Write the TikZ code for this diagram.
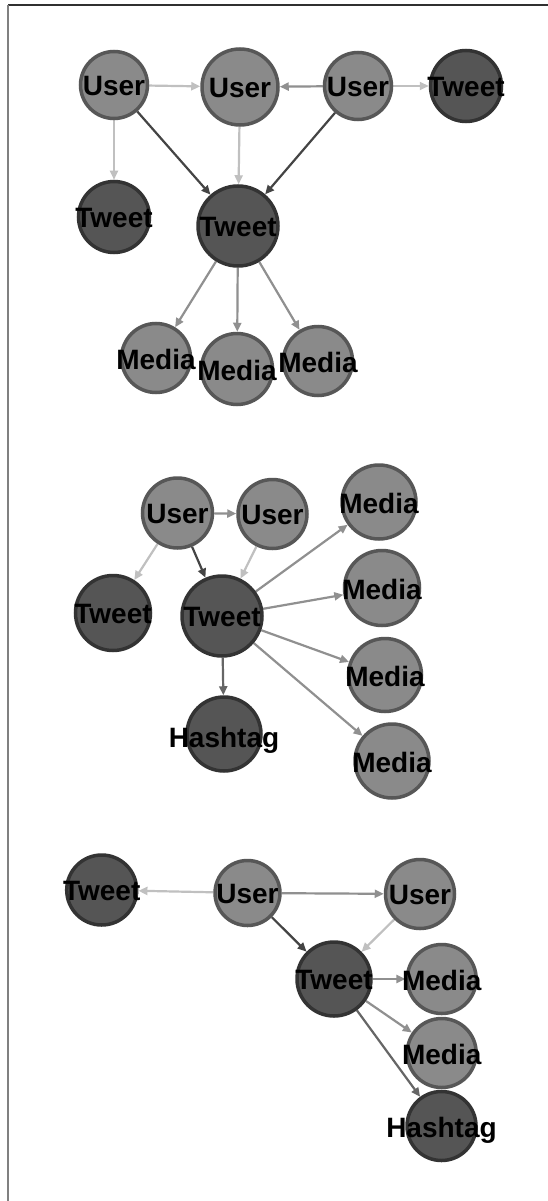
\documentclass[tikz,border=0pt]{standalone}
\usepackage{fontspec}
\setmainfont{Liberation Sans}
\usetikzlibrary{arrows.meta,backgrounds}
\definecolor{ufill}{HTML}{8A8A8A}
\definecolor{uline}{HTML}{575757}
\definecolor{tfill}{HTML}{555555}
\definecolor{tline}{HTML}{333333}
\definecolor{elightc}{HTML}{C0C0C0}
\definecolor{emedc}{HTML}{909090}
\definecolor{edarkc}{HTML}{444444}
\definecolor{ehashc}{HTML}{666666}
\tikzset{
  lbl/.style={font=\fontsize{28}{29}\selectfont\bfseries, inner sep=0pt, text=black},
  gnode/.style={circle, line width=3.5pt, inner sep=0pt, minimum size=#1},
  usr/.style={gnode=#1, fill=ufill, draw=uline},
  twt/.style={gnode=#1, fill=tfill, draw=tline},
  earr/.style={line width=2.2pt, -{Triangle[length=9pt,width=8pt]}},
  elight/.style={earr, draw=elightc},
  emed/.style={earr, draw=emedc},
  edark/.style={earr, draw=edarkc},
  ehash/.style={earr, draw=ehashc},
}
\begin{document}
\begin{tikzpicture}[x=1pt, y=-1pt]
\useasboundingbox (0,0) rectangle (548,1201);
% ---------- panel 1 ----------
\node[usr=67, label={[lbl,yshift=-1pt]center:User}] (p1u1) at (114,85) {};
\node[usr=76, label={[lbl,yshift=-1pt]center:User}] (p1u2) at (240,87) {};
\node[usr=67, label={[lbl,yshift=-1pt]center:User}] (p1u3) at (358,86) {};
\node[twt=71, label={[lbl,yshift=-1pt]center:Tweet}] (p1t1) at (466,86) {};
\node[twt=71, label={[lbl,yshift=-1pt]center:Tweet}] (p1t2) at (114,217) {};
\node[twt=80, label={[lbl,yshift=-1pt]center:Tweet}] (p1t3) at (238,226) {};
\node[usr=69, label={[lbl,yshift=-1pt]center:Media}] (p1m1) at (156,358) {};
\node[usr=71, label={[lbl,yshift=-1pt]center:Media}] (p1m2) at (237,369) {};
\node[usr=69, label={[lbl,yshift=-1pt]center:Media}] (p1m3) at (318,361) {};
% ---------- panel 2 ----------
\node[usr=70, label={[lbl,yshift=-1pt]center:User}] (p2u1) at (177.5,513) {};
\node[usr=69, label={[lbl,yshift=-1pt]center:User}] (p2u2) at (272.5,514) {};
\node[usr=74, label={[lbl,yshift=-1pt]center:Media}] (p2m1) at (379,502) {};
\node[twt=75, label={[lbl,yshift=-1pt]center:Tweet}] (p2t1) at (113,613) {};
\node[twt=80, label={[lbl,yshift=-1pt]center:Tweet}] (p2t2) at (222,616) {};
\node[usr=75, label={[lbl,yshift=-1pt]center:Media}] (p2m2) at (382,588) {};
\node[usr=73, label={[lbl,yshift=-1pt]center:Media}] (p2m3) at (385,675) {};
\node[twt=74, label={[lbl,yshift=-6pt]center:Hashtag}] (p2h) at (224,734) {};
\node[usr=74, label={[lbl,yshift=-1pt]center:Media}] (p2m4) at (392,761) {};
% ---------- panel 3 ----------
\node[twt=70, label={[lbl,yshift=-1pt]center:Tweet}] (p3t1) at (101.7,890) {};
\node[usr=65, label={[lbl,yshift=-1pt]center:User}] (p3u1) at (247.5,893) {};
\node[usr=69, label={[lbl,yshift=-1pt]center:User}] (p3u2) at (420,894) {};
\node[twt=74, label={[lbl,yshift=-1pt]center:Tweet}] (p3t2) at (334,979) {};
\node[usr=69, label={[lbl,yshift=-1pt]center:Media}] (p3m1) at (441.7,979) {};
\node[usr=69, label={[lbl,yshift=-1pt]center:Media}] (p3m2) at (441.7,1053) {};
\node[twt=69, label={[lbl,yshift=-4pt]center:Hashtag}] (p3h) at (441.5,1126) {};
\begin{scope}[on background layer]
\fill[white] (0,0) rectangle (548,1201);
\draw[line width=1.2pt, draw={rgb,255:red,48;green,48;blue,48}] (8,5) -- (548,5);
\draw[line width=1.7pt, draw={rgb,255:red,128;green,128;blue,128}] (8,5) -- (8,1201);
% edges panel 1
\draw[elight] (p1u1) -- (p1u2);
\draw[emed] (p1u3) -- (p1u2);
\draw[elight] (p1u3) -- (p1t1);
\draw[elight] (p1u1) -- (p1t2);
\draw[edark] (p1u1) -- (p1t3);
\draw[elight] (p1u2) -- (p1t3);
\draw[edark] (p1u3) -- (p1t3);
\draw[emed] (p1t3) -- (p1m1);
\draw[emed] (p1t3) -- (p1m2);
\draw[emed] (p1t3) -- (p1m3);
% edges panel 2
\draw[emed] (p2u1) -- (p2u2);
\draw[elight] (p2u1) -- (p2t1);
\draw[edark] (p2u1) -- (p2t2);
\draw[elight] (p2u2) -- (p2t2);
\draw[emed] (p2t2) -- (p2m1);
\draw[emed] (p2t2) -- (p2m2);
\draw[emed] (p2t2) -- (p2m3);
\draw[emed] (p2t2) -- (p2m4);
\draw[ehash] (p2t2) -- (p2h);
% edges panel 3
\draw[elight] (p3u1) -- (p3t1);
\draw[emed] (p3u1) -- (p3u2);
\draw[edark] (p3u1) -- (p3t2);
\draw[elight] (p3u2) -- (p3t2);
\draw[emed] (p3t2) -- (p3m1);
\draw[emed] (p3t2) -- (p3m2);
\draw[ehash] (p3t2) -- (p3h);
\end{scope}
\end{tikzpicture}
\end{document}
